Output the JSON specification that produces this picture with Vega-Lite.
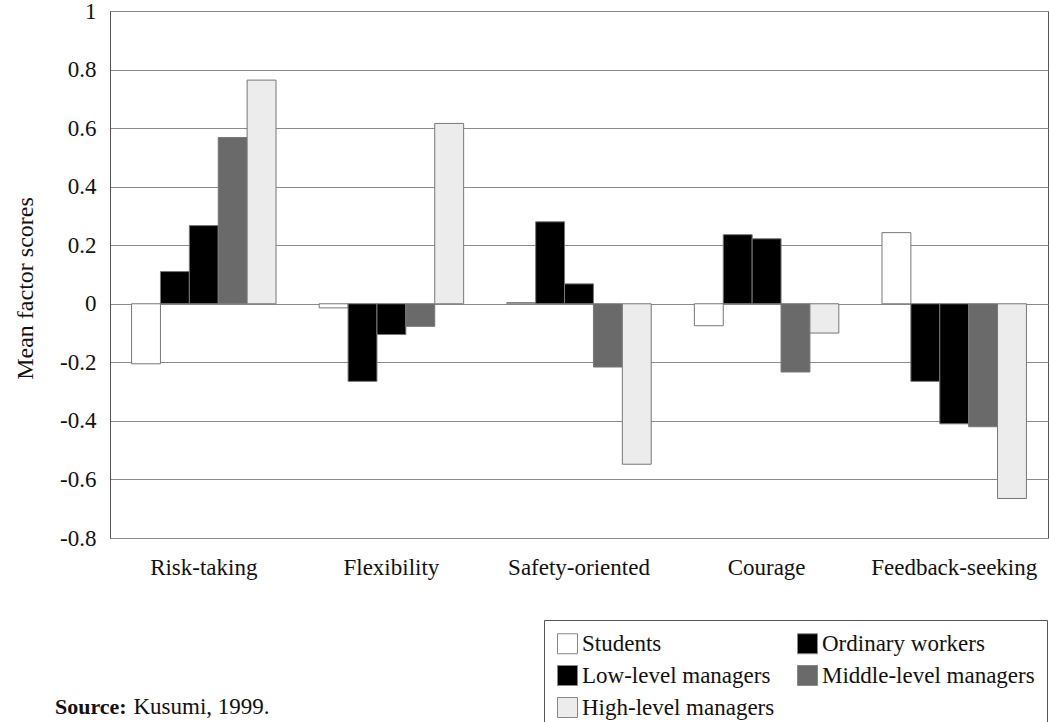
{
  "$schema": "https://vega.github.io/schema/vega-lite/v6.json",
  "width": 938,
  "height": 527,
  "autosize": "none",
  "padding": {"left": 110, "top": 11, "right": 1, "bottom": 184},
  "background": "white",
  "title": {
    "text": "Source:",
    "orient": "bottom",
    "anchor": "start",
    "frame": "group",
    "offset": -36,
    "dx": -55,
    "font": "Liberation Serif",
    "fontSize": 22,
    "fontWeight": "bold",
    "color": "#111"
  },
  "data": {
    "values": [
      {"factor": "Risk-taking", "group": "Students", "score": -0.205},
      {"factor": "Risk-taking", "group": "Ordinary workers", "score": 0.11},
      {"factor": "Risk-taking", "group": "Low-level managers", "score": 0.267},
      {"factor": "Risk-taking", "group": "Middle-level managers", "score": 0.568},
      {"factor": "Risk-taking", "group": "High-level managers", "score": 0.764},
      {"factor": "Flexibility", "group": "Students", "score": -0.014},
      {"factor": "Flexibility", "group": "Ordinary workers", "score": -0.265},
      {"factor": "Flexibility", "group": "Low-level managers", "score": -0.105},
      {"factor": "Flexibility", "group": "Middle-level managers", "score": -0.077},
      {"factor": "Flexibility", "group": "High-level managers", "score": 0.616},
      {"factor": "Safety-oriented", "group": "Students", "score": 0.004},
      {"factor": "Safety-oriented", "group": "Ordinary workers", "score": 0.28},
      {"factor": "Safety-oriented", "group": "Low-level managers", "score": 0.068},
      {"factor": "Safety-oriented", "group": "Middle-level managers", "score": -0.216},
      {"factor": "Safety-oriented", "group": "High-level managers", "score": -0.548},
      {"factor": "Courage", "group": "Students", "score": -0.075},
      {"factor": "Courage", "group": "Ordinary workers", "score": 0.236},
      {"factor": "Courage", "group": "Low-level managers", "score": 0.222},
      {"factor": "Courage", "group": "Middle-level managers", "score": -0.233},
      {"factor": "Courage", "group": "High-level managers", "score": -0.1},
      {"factor": "Feedback-seeking", "group": "Students", "score": 0.243},
      {"factor": "Feedback-seeking", "group": "Ordinary workers", "score": -0.265},
      {"factor": "Feedback-seeking", "group": "Low-level managers", "score": -0.41},
      {"factor": "Feedback-seeking", "group": "Middle-level managers", "score": -0.42},
      {"factor": "Feedback-seeking", "group": "High-level managers", "score": -0.665}
    ]
  },
  "mark": {"type": "bar", "stroke": "#777", "strokeWidth": 1},
  "encoding": {
    "x": {
      "field": "factor",
      "type": "nominal",
      "sort": ["Risk-taking", "Flexibility", "Safety-oriented", "Courage", "Feedback-seeking"],
      "scale": {"paddingInner": 0.23, "paddingOuter": 0.115},
      "axis": {
        "title": "Kusumi, 1999.",
        "titleFont": "Liberation Serif",
        "titleFontSize": 23,
        "titleFontWeight": "normal",
        "titleColor": "#111",
        "titleAnchor": "start",
        "titleAlign": "left",
        "titleBaseline": "alphabetic",
        "titleX": 23,
        "titleY": 175,
        "labelAngle": 0,
        "domain": false,
        "ticks": false,
        "labelPadding": 18,
        "labelFont": "Liberation Serif",
        "labelFontSize": 23,
        "labelColor": "#111"
      }
    },
    "xOffset": {
      "field": "group",
      "type": "nominal",
      "sort": ["Students", "Ordinary workers", "Low-level managers", "Middle-level managers", "High-level managers"],
      "scale": {"paddingInner": 0, "paddingOuter": 0}
    },
    "y": {
      "field": "score",
      "type": "quantitative",
      "scale": {"domain": [-0.8, 1], "nice": false, "zero": false},
      "axis": {
        "title": "Mean factor scores",
        "values": [-0.8, -0.6, -0.4, -0.2, 0, 0.2, 0.4, 0.6, 0.8, 1],
        "format": ".1~f",
        "labelExpr": "replace(datum.label, '\u2212', '-')",
        "grid": true,
        "gridColor": "#8a8a8a",
        "gridWidth": 1,
        "domain": true,
        "domainColor": "#555",
        "ticks": false,
        "labelPadding": 14,
        "labelFont": "Liberation Serif",
        "labelFontSize": 23,
        "labelColor": "#111",
        "titleFont": "Liberation Serif",
        "titleFontSize": 24,
        "titleFontWeight": "normal",
        "titleColor": "#111",
        "titlePadding": 22,
        "titleY": 277
      }
    },
    "color": {
      "field": "group",
      "type": "nominal",
      "sort": ["Students", "Ordinary workers", "Low-level managers", "Middle-level managers", "High-level managers"],
      "scale": {
        "domain": ["Students", "Ordinary workers", "Low-level managers", "Middle-level managers", "High-level managers"],
        "range": ["#ffffff", "#000000", "#000000", "#6a6a6a", "#ececec"]
      },
      "legend": {
        "title": null,
        "orient": "none",
        "direction": "horizontal",
        "legendX": 434,
        "legendY": 609,
        "columns": 2,
        "columnPadding": 20,
        "rowPadding": 7,
        "padding": 12,
        "strokeColor": "#555",
        "fillColor": "white",
        "symbolType": "square",
        "symbolSize": 400,
        "symbolStrokeColor": "#888",
        "symbolStrokeWidth": 1,
        "symbolOpacity": 1,
        "labelFont": "Liberation Serif",
        "labelFontSize": 23,
        "labelColor": "#111",
        "labelOffset": 3,
        "labelLimit": 400
      }
    }
  },
  "config": {
    "view": {"stroke": "#555", "strokeWidth": 1}
  }
}
